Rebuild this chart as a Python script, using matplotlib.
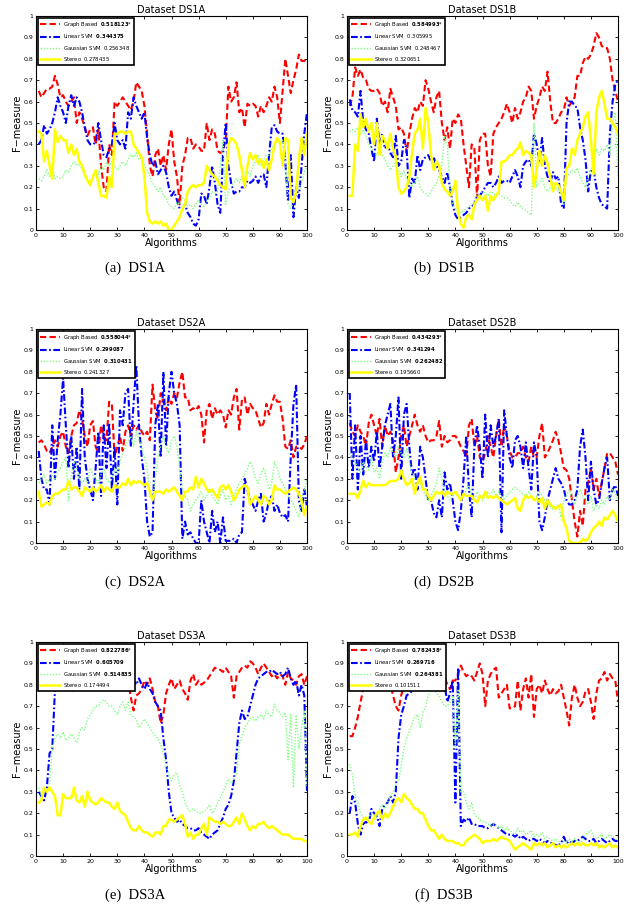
import matplotlib
matplotlib.use("Agg")
import matplotlib.pyplot as plt
import numpy as np

x = list(range(1, 101))

# ---------------- DS1A ----------------
ds1a_graph = [0.65,0.62,0.64,0.66,0.66,0.67,0.72,0.68,0.62,0.63,0.60,0.58,0.60,0.62,0.50,0.55,0.52,0.48,0.44,0.47,
              0.48,0.40,0.47,0.30,0.20,0.18,0.40,0.35,0.60,0.58,0.60,0.62,0.60,0.58,0.56,0.60,0.69,0.67,0.65,0.58,
              0.45,0.30,0.25,0.35,0.38,0.30,0.35,0.28,0.40,0.47,0.32,0.25,0.12,0.30,0.35,0.43,0.43,0.38,0.40,0.39,
              0.37,0.37,0.50,0.42,0.47,0.45,0.37,0.36,0.37,0.42,0.67,0.60,0.62,0.69,0.55,0.57,0.48,0.59,0.58,0.59,
              0.58,0.53,0.58,0.55,0.58,0.62,0.60,0.67,0.62,0.50,0.65,0.80,0.72,0.64,0.70,0.75,0.82,0.79,0.79,0.80]
ds1a_linear = [0.40,0.42,0.49,0.45,0.47,0.50,0.55,0.62,0.58,0.55,0.50,0.58,0.63,0.58,0.62,0.60,0.55,0.48,0.42,0.40,
               0.40,0.41,0.50,0.42,0.35,0.34,0.38,0.40,0.50,0.42,0.40,0.42,0.38,0.55,0.52,0.62,0.58,0.55,0.52,0.55,
               0.43,0.35,0.30,0.32,0.26,0.28,0.30,0.27,0.20,0.16,0.18,0.14,0.10,0.10,0.12,0.08,0.06,0.03,0.02,0.05,
               0.17,0.16,0.12,0.20,0.30,0.22,0.12,0.08,0.35,0.50,0.30,0.22,0.17,0.18,0.18,0.20,0.20,0.23,0.22,0.23,
               0.25,0.22,0.25,0.26,0.20,0.35,0.48,0.49,0.46,0.45,0.45,0.32,0.13,0.35,0.06,0.20,0.15,0.30,0.45,0.55]
ds1a_gauss = [0.24,0.23,0.25,0.28,0.25,0.30,0.24,0.25,0.24,0.25,0.28,0.27,0.30,0.32,0.30,0.31,0.28,0.25,0.24,0.22,
              0.25,0.28,0.26,0.30,0.28,0.32,0.30,0.32,0.30,0.28,0.30,0.32,0.30,0.33,0.35,0.34,0.36,0.33,0.34,0.30,
              0.28,0.25,0.22,0.20,0.18,0.20,0.16,0.15,0.12,0.11,0.10,0.13,0.12,0.15,0.14,0.11,0.12,0.10,0.12,0.14,
              0.12,0.11,0.13,0.15,0.18,0.17,0.18,0.30,0.42,0.12,0.18,0.20,0.22,0.24,0.22,0.25,0.27,0.28,0.25,0.30,
              0.32,0.35,0.30,0.33,0.35,0.35,0.38,0.40,0.42,0.40,0.42,0.35,0.12,0.10,0.13,0.18,0.20,0.22,0.27,0.30]
ds1a_stereo = [0.46,0.45,0.32,0.37,0.30,0.24,0.47,0.41,0.44,0.42,0.42,0.36,0.40,0.35,0.38,0.32,0.30,0.26,0.23,0.21,
               0.25,0.28,0.22,0.16,0.16,0.15,0.25,0.20,0.45,0.45,0.46,0.46,0.45,0.46,0.46,0.40,0.38,0.36,0.34,0.25,
               0.08,0.04,0.03,0.04,0.03,0.04,0.02,0.03,0.00,0.00,0.02,0.04,0.06,0.10,0.12,0.18,0.20,0.21,0.20,0.21,
               0.21,0.22,0.30,0.28,0.26,0.25,0.23,0.21,0.20,0.19,0.40,0.43,0.42,0.40,0.35,0.28,0.20,0.30,0.36,0.33,
               0.35,0.31,0.33,0.29,0.33,0.28,0.33,0.40,0.43,0.41,0.30,0.43,0.42,0.15,0.13,0.18,0.33,0.43,0.35,0.45]

# ---------------- DS1B ----------------
ds1b_graph = [0.58,0.62,0.76,0.72,0.75,0.71,0.70,0.66,0.65,0.65,0.66,0.64,0.58,0.60,0.55,0.66,0.62,0.58,0.47,0.48,
              0.45,0.36,0.45,0.52,0.57,0.55,0.60,0.58,0.70,0.66,0.60,0.55,0.62,0.65,0.50,0.42,0.48,0.38,0.52,0.50,
              0.54,0.52,0.40,0.30,0.20,0.40,0.38,0.15,0.42,0.45,0.45,0.30,0.25,0.45,0.48,0.50,0.52,0.55,0.59,0.55,
              0.50,0.57,0.52,0.55,0.60,0.62,0.67,0.65,0.52,0.58,0.62,0.67,0.65,0.74,0.60,0.50,0.50,0.52,0.55,0.56,
              0.62,0.58,0.60,0.62,0.72,0.72,0.78,0.81,0.80,0.82,0.86,0.92,0.90,0.86,0.85,0.85,0.80,0.70,0.65,0.60]
ds1b_linear = [0.61,0.56,0.55,0.53,0.65,0.50,0.47,0.45,0.38,0.32,0.52,0.40,0.45,0.38,0.40,0.36,0.34,0.44,0.30,0.32,
               0.42,0.38,0.15,0.24,0.22,0.35,0.28,0.33,0.34,0.35,0.32,0.34,0.30,0.28,0.25,0.22,0.27,0.20,0.12,0.07,
               0.05,0.06,0.07,0.08,0.10,0.11,0.12,0.16,0.16,0.18,0.20,0.22,0.22,0.20,0.22,0.25,0.22,0.23,0.23,0.22,
               0.25,0.28,0.25,0.20,0.30,0.32,0.33,0.30,0.45,0.40,0.32,0.43,0.30,0.25,0.22,0.27,0.24,0.25,0.12,0.10,
               0.50,0.60,0.60,0.58,0.57,0.48,0.42,0.33,0.18,0.28,0.28,0.20,0.15,0.12,0.11,0.10,0.45,0.60,0.68,0.70]
ds1b_gauss = [0.46,0.47,0.46,0.48,0.45,0.47,0.44,0.40,0.38,0.36,0.35,0.38,0.35,0.33,0.30,0.28,0.30,0.32,0.28,0.25,
              0.28,0.24,0.22,0.20,0.22,0.25,0.20,0.18,0.17,0.16,0.18,0.20,0.22,0.25,0.30,0.44,0.40,0.20,0.12,0.10,
              0.09,0.08,0.09,0.10,0.11,0.12,0.14,0.16,0.17,0.18,0.17,0.16,0.18,0.17,0.16,0.17,0.16,0.15,0.15,0.14,
              0.12,0.11,0.13,0.11,0.10,0.09,0.08,0.07,0.50,0.20,0.22,0.24,0.20,0.18,0.20,0.22,0.20,0.18,0.16,0.12,
              0.25,0.26,0.28,0.27,0.29,0.25,0.22,0.20,0.25,0.28,0.30,0.38,0.35,0.38,0.37,0.40,0.35,0.50,0.55,0.25]
ds1b_stereo = [0.16,0.16,0.40,0.37,0.54,0.48,0.52,0.46,0.50,0.40,0.50,0.35,0.44,0.42,0.38,0.45,0.38,0.34,0.20,0.17,
               0.18,0.20,0.25,0.36,0.45,0.47,0.52,0.38,0.57,0.50,0.35,0.28,0.32,0.30,0.22,0.19,0.18,0.16,0.18,0.23,
               0.08,0.03,0.01,0.06,0.07,0.05,0.12,0.14,0.16,0.14,0.16,0.09,0.16,0.14,0.16,0.18,0.32,0.32,0.33,0.35,
               0.35,0.37,0.38,0.41,0.35,0.37,0.36,0.35,0.20,0.28,0.37,0.30,0.35,0.31,0.25,0.18,0.22,0.21,0.18,0.14,
               0.29,0.30,0.38,0.35,0.42,0.45,0.48,0.53,0.55,0.42,0.26,0.55,0.62,0.65,0.59,0.52,0.52,0.50,0.48,0.45]

# ---------------- DS2A ----------------
ds2a_graph = [0.47,0.48,0.46,0.43,0.42,0.45,0.48,0.45,0.50,0.52,0.45,0.42,0.50,0.55,0.56,0.62,0.58,0.50,0.45,0.55,
              0.57,0.45,0.42,0.55,0.50,0.48,0.66,0.65,0.40,0.45,0.50,0.43,0.52,0.55,0.50,0.55,0.53,0.55,0.52,0.50,
              0.52,0.48,0.74,0.62,0.58,0.70,0.66,0.62,0.68,0.65,0.70,0.68,0.75,0.80,0.68,0.68,0.62,0.63,0.62,0.64,
              0.60,0.47,0.62,0.65,0.58,0.63,0.60,0.62,0.60,0.54,0.62,0.60,0.68,0.72,0.53,0.67,0.68,0.60,0.65,0.63,
              0.62,0.58,0.54,0.56,0.65,0.60,0.65,0.69,0.66,0.66,0.58,0.45,0.44,0.48,0.40,0.45,0.45,0.44,0.46,0.50]
ds2a_linear = [0.43,0.30,0.25,0.25,0.18,0.55,0.30,0.48,0.60,0.77,0.55,0.35,0.50,0.30,0.45,0.25,0.72,0.40,0.30,0.25,
               0.20,0.35,0.52,0.22,0.55,0.35,0.56,0.25,0.45,0.18,0.62,0.55,0.70,0.72,0.45,0.65,0.83,0.55,0.40,0.30,
               0.10,0.03,0.05,0.55,0.65,0.40,0.80,0.45,0.70,0.80,0.70,0.65,0.55,0.02,0.10,0.04,0.05,0.02,0.00,0.00,
               0.20,0.10,0.05,0.00,0.15,0.05,0.10,0.00,0.12,0.01,0.01,0.01,0.02,0.00,0.04,0.05,0.30,0.25,0.20,0.18,
               0.15,0.20,0.23,0.10,0.14,0.20,0.22,0.15,0.18,0.14,0.12,0.13,0.10,0.40,0.65,0.74,0.20,0.15,0.25,0.17]
ds2a_gauss = [0.28,0.30,0.32,0.28,0.30,0.32,0.30,0.33,0.35,0.38,0.40,0.20,0.32,0.38,0.35,0.30,0.28,0.30,0.28,0.35,
              0.32,0.30,0.28,0.32,0.35,0.30,0.28,0.30,0.35,0.32,0.38,0.42,0.45,0.48,0.50,0.45,0.52,0.48,0.45,0.40,
              0.35,0.22,0.20,0.30,0.40,0.45,0.50,0.45,0.42,0.48,0.50,0.45,0.35,0.25,0.22,0.20,0.15,0.18,0.20,0.22,
              0.24,0.20,0.22,0.25,0.22,0.20,0.18,0.22,0.25,0.20,0.22,0.18,0.22,0.25,0.28,0.30,0.32,0.35,0.38,0.35,
              0.30,0.28,0.32,0.35,0.30,0.25,0.28,0.38,0.35,0.30,0.28,0.25,0.22,0.20,0.18,0.15,0.12,0.20,0.25,0.30]
ds2a_stereo = [0.24,0.17,0.18,0.19,0.18,0.22,0.23,0.23,0.24,0.25,0.25,0.29,0.25,0.26,0.26,0.24,0.22,0.26,0.25,0.24,
               0.26,0.24,0.25,0.27,0.24,0.26,0.25,0.24,0.27,0.26,0.26,0.28,0.27,0.30,0.27,0.29,0.28,0.29,0.28,0.27,
               0.28,0.24,0.20,0.24,0.24,0.24,0.23,0.25,0.24,0.25,0.26,0.24,0.22,0.20,0.24,0.24,0.26,0.25,0.31,0.26,
               0.30,0.28,0.25,0.24,0.25,0.23,0.21,0.26,0.27,0.25,0.27,0.24,0.20,0.22,0.25,0.26,0.27,0.26,0.18,0.20,
               0.22,0.20,0.18,0.22,0.21,0.18,0.20,0.27,0.25,0.25,0.24,0.23,0.24,0.25,0.26,0.25,0.23,0.20,0.13,0.17]

# ---------------- DS2B ----------------
ds2b_graph = [0.56,0.52,0.50,0.55,0.52,0.50,0.45,0.56,0.60,0.55,0.50,0.58,0.45,0.55,0.50,0.52,0.48,0.33,0.40,0.50,
              0.55,0.45,0.50,0.55,0.60,0.55,0.52,0.55,0.50,0.47,0.48,0.48,0.50,0.57,0.45,0.50,0.47,0.48,0.50,0.50,
              0.48,0.45,0.43,0.40,0.55,0.58,0.45,0.50,0.40,0.38,0.42,0.50,0.45,0.40,0.50,0.58,0.45,0.55,0.50,0.43,
              0.40,0.40,0.42,0.42,0.45,0.40,0.38,0.45,0.40,0.40,0.50,0.56,0.40,0.42,0.45,0.48,0.52,0.48,0.42,0.35,
              0.34,0.30,0.20,0.10,0.03,0.15,0.08,0.25,0.28,0.35,0.25,0.30,0.22,0.28,0.35,0.42,0.42,0.40,0.38,0.32]
ds2b_linear = [0.70,0.30,0.55,0.25,0.50,0.32,0.48,0.35,0.45,0.38,0.52,0.35,0.45,0.55,0.60,0.65,0.40,0.50,0.68,0.30,
               0.60,0.65,0.45,0.32,0.35,0.25,0.45,0.40,0.30,0.20,0.20,0.14,0.12,0.20,0.12,0.33,0.25,0.28,0.20,0.10,
               0.06,0.15,0.30,0.50,0.25,0.12,0.45,0.55,0.45,0.30,0.60,0.40,0.55,0.45,0.50,0.58,0.05,0.62,0.50,0.40,
               0.35,0.48,0.50,0.45,0.35,0.47,0.35,0.25,0.47,0.40,0.10,0.06,0.12,0.20,0.25,0.30,0.35,0.30,0.28,0.25,
               0.20,0.18,0.18,0.20,0.25,0.45,0.53,0.40,0.20,0.38,0.25,0.18,0.20,0.28,0.35,0.40,0.20,0.25,0.27,0.22]
ds2b_gauss = [0.42,0.40,0.38,0.35,0.33,0.38,0.36,0.34,0.40,0.33,0.35,0.30,0.38,0.42,0.40,0.45,0.42,0.40,0.45,0.42,
              0.40,0.44,0.38,0.32,0.30,0.30,0.28,0.25,0.22,0.20,0.22,0.25,0.28,0.35,0.30,0.25,0.22,0.20,0.22,0.24,
              0.22,0.20,0.22,0.25,0.27,0.22,0.20,0.24,0.22,0.20,0.22,0.24,0.22,0.25,0.22,0.24,0.22,0.20,0.22,0.24,
              0.25,0.26,0.25,0.24,0.23,0.22,0.24,0.22,0.20,0.22,0.24,0.22,0.20,0.18,0.17,0.16,0.17,0.18,0.12,0.20,
              0.22,0.25,0.20,0.18,0.22,0.25,0.22,0.20,0.18,0.22,0.15,0.18,0.16,0.20,0.18,0.22,0.20,0.25,0.23,0.20]
ds2b_stereo = [0.23,0.23,0.23,0.21,0.25,0.29,0.26,0.28,0.27,0.27,0.27,0.27,0.27,0.27,0.28,0.29,0.29,0.29,0.30,0.34,
               0.30,0.27,0.28,0.30,0.23,0.28,0.31,0.25,0.25,0.22,0.20,0.22,0.24,0.23,0.24,0.22,0.24,0.23,0.23,0.24,
               0.22,0.20,0.23,0.22,0.22,0.22,0.20,0.19,0.22,0.21,0.24,0.21,0.22,0.21,0.22,0.21,0.20,0.19,0.18,0.19,
               0.20,0.21,0.16,0.15,0.20,0.22,0.21,0.22,0.20,0.21,0.19,0.21,0.16,0.20,0.18,0.17,0.16,0.17,0.18,0.10,
               0.07,0.01,0.00,0.00,0.00,0.00,0.02,0.01,0.02,0.05,0.07,0.08,0.10,0.08,0.12,0.11,0.13,0.15,0.13,0.10]

# ---------------- DS3A ----------------
ds3a_graph = [0.84,0.82,0.82,0.83,0.84,0.85,0.83,0.82,0.85,0.82,0.82,0.80,0.84,0.80,0.82,0.80,0.82,0.80,0.82,0.81,
              0.83,0.82,0.85,0.80,0.82,0.83,0.81,0.84,0.80,0.78,0.82,0.80,0.78,0.82,0.74,0.68,0.75,0.76,0.78,0.82,
              0.80,0.83,0.78,0.72,0.70,0.62,0.66,0.76,0.80,0.83,0.78,0.80,0.82,0.78,0.76,0.73,0.82,0.85,0.80,0.82,
              0.80,0.81,0.82,0.84,0.86,0.88,0.87,0.87,0.86,0.88,0.86,0.84,0.74,0.84,0.86,0.88,0.89,0.88,0.91,0.90,
              0.88,0.85,0.88,0.90,0.88,0.86,0.84,0.85,0.83,0.85,0.84,0.80,0.86,0.83,0.82,0.80,0.84,0.85,0.80,0.84]
ds3a_linear = [0.30,0.28,0.26,0.32,0.48,0.50,0.78,0.82,0.80,0.82,0.82,0.80,0.78,0.77,0.80,0.81,0.82,0.83,0.80,0.82,
               0.83,0.83,0.82,0.83,0.82,0.81,0.82,0.83,0.83,0.82,0.84,0.83,0.84,0.83,0.83,0.82,0.80,0.83,0.80,0.78,
               0.81,0.78,0.76,0.72,0.70,0.68,0.55,0.45,0.30,0.20,0.18,0.16,0.17,0.15,0.14,0.13,0.13,0.12,0.12,0.13,
               0.11,0.10,0.09,0.08,0.10,0.11,0.12,0.15,0.18,0.22,0.24,0.28,0.35,0.48,0.62,0.68,0.64,0.65,0.70,0.75,
               0.80,0.83,0.84,0.85,0.86,0.86,0.87,0.86,0.85,0.86,0.84,0.85,0.88,0.83,0.80,0.82,0.75,0.80,0.75,0.30]
ds3a_gauss = [0.32,0.28,0.30,0.30,0.34,0.50,0.55,0.57,0.55,0.58,0.54,0.55,0.57,0.55,0.53,0.58,0.60,0.59,0.64,0.66,
              0.68,0.70,0.70,0.72,0.73,0.72,0.70,0.70,0.68,0.66,0.70,0.72,0.68,0.72,0.66,0.65,0.64,0.60,0.62,0.64,
              0.62,0.60,0.58,0.56,0.55,0.52,0.48,0.42,0.38,0.35,0.38,0.39,0.33,0.30,0.25,0.22,0.21,0.22,0.21,0.20,
              0.20,0.21,0.22,0.24,0.20,0.22,0.25,0.27,0.30,0.33,0.36,0.34,0.36,0.38,0.52,0.56,0.60,0.62,0.64,0.65,
              0.63,0.65,0.66,0.64,0.68,0.66,0.65,0.71,0.68,0.67,0.65,0.67,0.45,0.66,0.32,0.66,0.50,0.60,0.68,0.32]
ds3a_stereo = [0.25,0.26,0.32,0.30,0.32,0.30,0.28,0.19,0.19,0.29,0.27,0.27,0.27,0.32,0.26,0.25,0.28,0.23,0.30,0.26,
               0.25,0.24,0.25,0.27,0.26,0.25,0.25,0.23,0.22,0.25,0.21,0.20,0.19,0.16,0.13,0.12,0.12,0.14,0.12,0.11,
               0.11,0.10,0.09,0.11,0.11,0.10,0.14,0.14,0.17,0.17,0.16,0.17,0.18,0.19,0.15,0.09,0.11,0.08,0.10,0.10,
               0.13,0.15,0.10,0.18,0.17,0.16,0.16,0.15,0.16,0.15,0.14,0.14,0.16,0.18,0.15,0.20,0.17,0.14,0.12,0.14,
               0.13,0.15,0.15,0.16,0.14,0.13,0.14,0.13,0.12,0.11,0.10,0.10,0.10,0.09,0.08,0.08,0.08,0.08,0.07,0.07]

# ---------------- DS3B ----------------
ds3b_graph = [0.56,0.56,0.60,0.65,0.72,0.78,0.80,0.82,0.80,0.81,0.80,0.84,0.82,0.80,0.82,0.80,0.75,0.70,0.68,0.75,
              0.80,0.82,0.84,0.80,0.82,0.84,0.82,0.84,0.80,0.82,0.84,0.82,0.84,0.84,0.82,0.84,0.80,0.78,0.82,0.82,
              0.85,0.89,0.86,0.84,0.85,0.84,0.82,0.86,0.90,0.85,0.70,0.82,0.85,0.87,0.88,0.74,0.76,0.78,0.80,0.69,
              0.69,0.70,0.82,0.68,0.78,0.83,0.74,0.85,0.65,0.78,0.80,0.76,0.82,0.78,0.75,0.78,0.76,0.77,0.80,0.74,
              0.68,0.61,0.74,0.80,0.74,0.70,0.72,0.77,0.78,0.72,0.64,0.76,0.82,0.83,0.86,0.82,0.85,0.83,0.82,0.72]
ds3b_linear = [0.20,0.28,0.25,0.15,0.10,0.15,0.16,0.15,0.22,0.20,0.19,0.14,0.22,0.24,0.25,0.28,0.25,0.30,0.55,0.66,
               0.70,0.75,0.76,0.77,0.80,0.78,0.82,0.83,0.85,0.84,0.86,0.85,0.84,0.86,0.82,0.80,0.72,0.76,0.82,0.25,
               0.88,0.14,0.17,0.16,0.18,0.15,0.15,0.14,0.14,0.14,0.13,0.13,0.14,0.15,0.14,0.13,0.12,0.11,0.10,0.10,
               0.10,0.09,0.10,0.08,0.09,0.08,0.07,0.08,0.08,0.07,0.08,0.07,0.06,0.07,0.06,0.06,0.05,0.05,0.06,0.09,
               0.06,0.07,0.06,0.07,0.07,0.08,0.09,0.08,0.07,0.07,0.08,0.06,0.07,0.08,0.07,0.06,0.07,0.08,0.07,0.07]
ds3b_gauss = [0.43,0.38,0.28,0.25,0.20,0.18,0.17,0.18,0.20,0.19,0.18,0.22,0.24,0.22,0.25,0.28,0.30,0.33,0.35,0.42,
              0.50,0.55,0.58,0.62,0.65,0.66,0.60,0.67,0.70,0.75,0.78,0.78,0.76,0.75,0.72,0.70,0.70,0.72,0.75,0.50,
              0.78,0.30,0.30,0.25,0.22,0.25,0.20,0.18,0.17,0.16,0.16,0.15,0.14,0.15,0.14,0.13,0.14,0.12,0.13,0.12,
              0.11,0.10,0.13,0.11,0.12,0.10,0.11,0.12,0.09,0.10,0.09,0.11,0.08,0.09,0.08,0.07,0.08,0.07,0.06,0.07,
              0.06,0.08,0.07,0.08,0.07,0.06,0.08,0.10,0.11,0.12,0.09,0.08,0.09,0.10,0.08,0.09,0.10,0.09,0.08,0.07]
ds3b_stereo = [0.10,0.10,0.11,0.09,0.14,0.17,0.18,0.16,0.15,0.18,0.20,0.21,0.17,0.20,0.18,0.20,0.23,0.26,0.27,0.25,
               0.29,0.27,0.26,0.24,0.22,0.22,0.20,0.20,0.17,0.14,0.12,0.12,0.10,0.08,0.10,0.08,0.07,0.07,0.07,0.06,
               0.06,0.05,0.05,0.07,0.08,0.09,0.10,0.09,0.08,0.06,0.07,0.07,0.07,0.08,0.07,0.08,0.09,0.08,0.08,0.07,
               0.05,0.03,0.04,0.05,0.06,0.05,0.04,0.03,0.06,0.05,0.06,0.05,0.06,0.04,0.05,0.06,0.04,0.05,0.04,0.05,
               0.04,0.05,0.06,0.05,0.06,0.05,0.06,0.05,0.05,0.06,0.05,0.06,0.04,0.05,0.04,0.05,0.06,0.04,0.05,0.04]

titles = ["Dataset DS1A", "Dataset DS1B", "Dataset DS2A", "Dataset DS2B", "Dataset DS3A", "Dataset DS3B"]
captions = ["(a)  DS1A", "(b)  DS1B", "(c)  DS2A", "(d)  DS2B", "(e)  DS3A", "(f)  DS3B"]
series_names = ["Graph Based", "Linear SVM", "Gaussian SVM", "Stereo"]
legend_values = [
    ["0.518123", "0.344375", "0.256348", "0.278435"],
    ["0.584993", "0.305995", "0.248467", "0.320651"],
    ["0.558044", "0.299087", "0.310431", "0.241327"],
    ["0.434293", "0.341294", "0.262482", "0.195660"],
    ["0.822786", "0.605709", "0.514835", "0.174494"],
    ["0.782438", "0.269716", "0.264381", "0.101511"],
]
legend_bold = [
    [True, True, False, False],
    [True, False, False, False],
    [True, True, True, False],
    [True, True, True, False],
    [True, True, True, False],
    [True, True, True, False],
]
panels = [
    [ds1a_graph, ds1a_linear, ds1a_gauss, ds1a_stereo],
    [ds1b_graph, ds1b_linear, ds1b_gauss, ds1b_stereo],
    [ds2a_graph, ds2a_linear, ds2a_gauss, ds2a_stereo],
    [ds2b_graph, ds2b_linear, ds2b_gauss, ds2b_stereo],
    [ds3a_graph, ds3a_linear, ds3a_gauss, ds3a_stereo],
    [ds3b_graph, ds3b_linear, ds3b_gauss, ds3b_stereo],
]

styles = [
    dict(color="#ff0000", linestyle=(0, (3.0, 1.6)), linewidth=1.5),
    dict(color="#0000ff", linestyle=(0, (3.2, 1.2, 0.8, 1.2)), linewidth=1.5),
    dict(color="#80ff80", linestyle=(0, (1.0, 1.2)), linewidth=1.0),
    dict(color="#ffff00", linestyle="-", linewidth=1.8),
]

W, H = 629, 913
fig = plt.figure(figsize=(W / 100, H / 100), dpi=100)

lefts = [36, 347]
width = 271
tops = [16, 329, 642]
height = 214
cap_y = [268, 582, 895]
cap_x = [135, 444]

for i in range(6):
    r, c = divmod(i, 2)
    ax = fig.add_axes([lefts[c] / W, 1 - (tops[r] + height) / H, width / W, height / H])
    handles = []
    for k in range(4):
        h, = ax.plot(x, panels[i][k], **styles[k])
        handles.append(h)
    ax.set_xlim(0, 100)
    ax.set_ylim(0, 1)
    ax.set_xticks(np.arange(0, 101, 10))
    ax.set_yticks(np.arange(0, 1.01, 0.1))
    ax.set_yticklabels(["0", "0.1", "0.2", "0.3", "0.4", "0.5", "0.6", "0.7", "0.8", "0.9", "1"])
    ax.tick_params(direction="in", length=2.5, width=0.6, labelsize=4.5, pad=2,
                   top=True, right=True)
    for s in ax.spines.values():
        s.set_linewidth(0.8)
    ax.set_title(titles[i], fontsize=7, pad=2.5)
    ax.set_xlabel("Algorithms", fontsize=7, labelpad=0)
    ax.set_ylabel("F\u2212measure", fontsize=7, labelpad=1)

    labels = []
    for k in range(4):
        v = legend_values[i][k]
        if legend_bold[i][k]:
            vt = r"$\mathbf{" + v + "}$"
        else:
            vt = r"$\mathregular{" + v + "}$"
        if k == 0:
            vt = vt + "*"
        labels.append(series_names[k] + "  " + vt)
    leg = ax.legend(handles, labels, loc="upper left", fontsize=3.8, frameon=True,
                    fancybox=False, framealpha=1.0, borderpad=0.45, labelspacing=0.6,
                    handlelength=3.8, handletextpad=0.45, borderaxespad=0.35)
    leg.get_frame().set_edgecolor("black")
    leg.get_frame().set_linewidth(1.2)

    fig.text(cap_x[c] / W, 1 - cap_y[r] / H, captions[i], ha="center", va="center",
             fontsize=10.5, family="Liberation Serif")

fig.savefig("out.png", dpi=100)
